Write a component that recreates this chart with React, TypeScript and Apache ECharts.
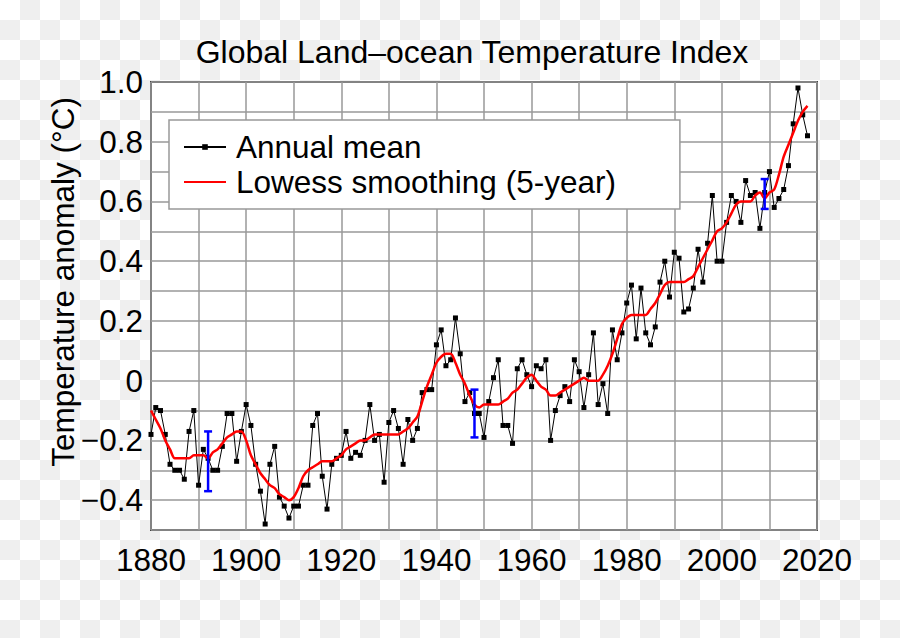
import React, { useEffect, useRef } from "react";
import * as echarts from "echarts";

const startYear = 1880;
const annualMean: number[] = [
  -0.18, -0.09, -0.10, -0.18, -0.28, -0.30, -0.30, -0.33, -0.17, -0.10,
  -0.35, -0.23, -0.26, -0.30, -0.30, -0.22, -0.11, -0.11, -0.27, -0.17,
  -0.08, -0.15, -0.28, -0.37, -0.48, -0.28, -0.22, -0.39, -0.42, -0.46,
  -0.42, -0.42, -0.35, -0.35, -0.15, -0.11, -0.32, -0.43, -0.28, -0.26,
  -0.25, -0.17, -0.26, -0.24, -0.25, -0.20, -0.08, -0.20, -0.18, -0.34,
  -0.14, -0.10, -0.16, -0.28, -0.13, -0.20, -0.16, -0.04, -0.03, -0.03,
  0.12, 0.17, 0.05, 0.07, 0.21, 0.09, -0.07, -0.04, -0.11, -0.11,
  -0.19, -0.07, 0.01, 0.07, -0.15, -0.15, -0.21, 0.04, 0.07, 0.02,
  -0.02, 0.05, 0.04, 0.07, -0.20, -0.10, -0.05, -0.02, -0.07, 0.07,
  0.03, -0.09, 0.02, 0.16, -0.08, -0.01, -0.11, 0.17, 0.07, 0.16,
  0.26, 0.32, 0.14, 0.31, 0.16, 0.12, 0.18, 0.33, 0.40, 0.28,
  0.43, 0.41, 0.23, 0.24, 0.31, 0.44, 0.33, 0.46, 0.62, 0.40,
  0.40, 0.53, 0.62, 0.60, 0.53, 0.67, 0.62, 0.63, 0.51, 0.63,
  0.70, 0.58, 0.61, 0.64, 0.72, 0.86, 0.98, 0.89, 0.82,
];
const lowess: number[] = [
  -0.10, -0.13, -0.16, -0.20, -0.23, -0.26, -0.26, -0.26, -0.26, -0.25,
  -0.25, -0.25, -0.26, -0.24, -0.23, -0.21, -0.19, -0.18, -0.17, -0.17,
  -0.20, -0.25, -0.28, -0.31, -0.33, -0.35, -0.36, -0.38, -0.39, -0.40,
  -0.39, -0.36, -0.32, -0.30, -0.29, -0.28, -0.27, -0.27, -0.27, -0.26,
  -0.25, -0.23, -0.22, -0.21, -0.20, -0.20, -0.19, -0.18, -0.18, -0.18,
  -0.18, -0.18, -0.18, -0.17, -0.16, -0.14, -0.12, -0.07, -0.02, 0.02,
  0.06, 0.08, 0.09, 0.09, 0.06, 0.02, -0.01, -0.05, -0.08, -0.09,
  -0.08, -0.08, -0.08, -0.08, -0.07, -0.06, -0.04, -0.03, -0.01, 0.01,
  0.02, 0.00, -0.02, -0.03, -0.05, -0.05, -0.04, -0.03, -0.02, -0.01,
  0.00, 0.01, 0.00, 0.00, 0.00, 0.02, 0.05, 0.09, 0.14, 0.19,
  0.21, 0.22, 0.22, 0.22, 0.22, 0.24, 0.26, 0.29, 0.32, 0.33,
  0.33, 0.33, 0.33, 0.34, 0.35, 0.38, 0.41, 0.44, 0.47, 0.50,
  0.51, 0.53, 0.56, 0.59, 0.60, 0.60, 0.60, 0.62, 0.63, 0.61,
  0.63, 0.64, 0.69, 0.75, 0.79, 0.83, 0.87, 0.90, 0.92,
];
const errYears: number[] = [1892, 1948, 2009];
const errLow: number[] = [-0.37, -0.19, 0.575];
const errHigh: number[] = [-0.17, -0.03, 0.675];

const FONT = "Liberation Sans";
const FS = 31.5;

function fmtY(v: number): string {
  const k = Math.round(v * 10);
  if (k % 2 !== 0) return "";
  if (k === 0) return "0";
  const s = Math.abs(v).toFixed(1);
  return (v < 0 ? "\u2212" : "") + s;
}

export default function App() {
  const ref = useRef<HTMLDivElement>(null);
  useEffect(() => {
    document.body.style.margin = "0";
    if (!ref.current) return;
    const chart = echarts.init(ref.current, null, { renderer: "svg" });
    const meanData = annualMean.map((v, i) => [startYear + i, v]);
    const lowData = lowess.map((v, i) => [startYear + i, v]);
    const errData = errYears.map((y, i) => [y, errLow[i], errHigh[i]]);
    chart.setOption({
      animation: false,
      textStyle: { fontFamily: FONT },
      grid: {
        left: 151,
        right: 83,
        top: 82,
        bottom: 108,
        show: true,
        backgroundColor: "#ffffff",
        borderColor: "#444",
        borderWidth: 2,
      },
      graphic: [
        {
          type: "text",
          x: 472,
          y: 52,
          style: {
            text: "Global Land\u2013ocean Temperature Index",
            fontSize: 32,
            fontFamily: FONT,
            fill: "#000",
            align: "center",
            verticalAlign: "middle",
          },
        },
        {
          type: "text",
          x: 63,
          y: 282,
          rotation: Math.PI / 2,
          style: {
            text: "Temperature anomaly (\u00b0C)",
            fontSize: FS,
            fontFamily: FONT,
            fill: "#000",
            align: "center",
            verticalAlign: "middle",
          },
        },
      ],
      legend: {
        orient: "vertical",
        left: 169,
        top: 120,
        padding: [11, 64, 11, 14],
        itemGap: 3,
        itemWidth: 42,
        itemHeight: 7,
        backgroundColor: "#ffffff",
        borderColor: "#999",
        borderWidth: 1.5,
        borderRadius: 0,
        textStyle: { fontSize: FS, fontFamily: FONT, color: "#000", padding: [0, 0, 0, 5] },
        data: [
          { name: "Annual mean" },
          {
            name: "Lowess smoothing (5-year)",
            itemStyle: { color: "rgba(0,0,0,0)", opacity: 0, borderWidth: 0 },
          },
        ],
      },
      xAxis: {
        type: "value",
        min: 1880,
        max: 2020,
        interval: 10,
        axisLine: { show: false },
        axisTick: { show: false },
        splitLine: { show: true, lineStyle: { color: "#999", width: 1.5 } },
        axisLabel: {
          fontSize: FS,
          fontFamily: FONT,
          color: "#000",
          margin: 14,
          formatter: (v: number) => ((v - 1880) % 20 === 0 ? String(v) : ""),
        },
      },
      yAxis: {
        type: "value",
        min: -0.5,
        max: 1.0,
        interval: 0.1,
        axisLine: { show: false },
        axisTick: { show: false },
        splitLine: { show: true, lineStyle: { color: "#999", width: 1.5 } },
        axisLabel: {
          fontSize: FS,
          fontFamily: FONT,
          color: "#000",
          margin: 8,
          formatter: fmtY,
        },
      },
      series: [
        {
          name: "Annual mean",
          type: "line",
          data: meanData,
          symbol: "rect",
          symbolSize: 5,
          showAllSymbol: true,
          itemStyle: { color: "#000" },
          lineStyle: { color: "#000", width: 1 },
          z: 2,
        },
        {
          name: "Lowess smoothing (5-year)",
          type: "line",
          data: lowData,
          symbol: "none",
          smooth: 0.3,
          itemStyle: { color: "#ff0000" },
          lineStyle: { color: "#ff0000", width: 2.5 },
          z: 3,
        },
        {
          name: "uncertainty",
          type: "custom",
          data: errData,
          z: 4,
          renderItem: (params: any, api: any) => {
            const x = api.value(0);
            const p1 = api.coord([x, api.value(1)]);
            const p2 = api.coord([x, api.value(2)]);
            const w = 4;
            const st = { stroke: "#0000ff", lineWidth: 2.5 };
            return {
              type: "group",
              children: [
                { type: "line", shape: { x1: p1[0], y1: p1[1], x2: p2[0], y2: p2[1] }, style: st },
                { type: "line", shape: { x1: p1[0] - w, y1: p1[1], x2: p1[0] + w, y2: p1[1] }, style: st },
                { type: "line", shape: { x1: p2[0] - w, y1: p2[1], x2: p2[0] + w, y2: p2[1] }, style: st },
              ],
            };
          },
        },
      ],
    });
    return () => chart.dispose();
  }, []);
  return (
    <div
      ref={ref}
      style={{
        width: 900,
        height: 638,
        backgroundColor: "#ffffff",
        backgroundImage: "repeating-conic-gradient(#efefef 0% 25%, #ffffff 0% 50%)",
        backgroundSize: "40px 40px",
        backgroundPosition: "0 0",
      }}
    />
  );
}
